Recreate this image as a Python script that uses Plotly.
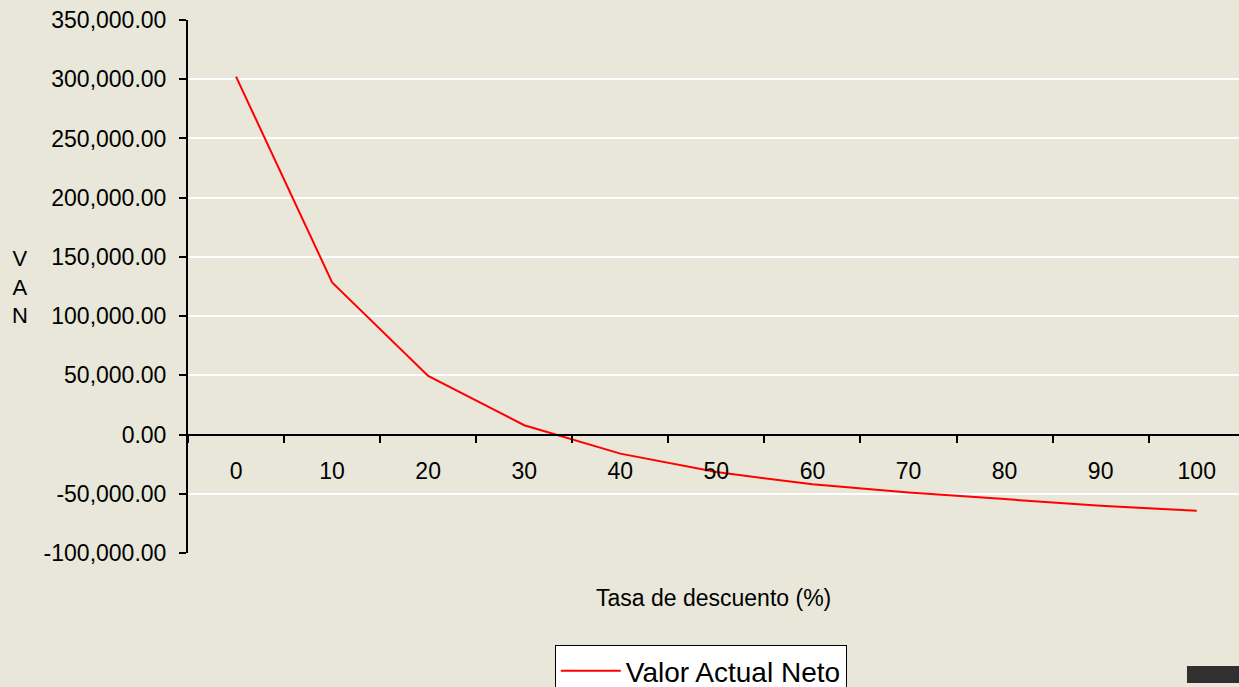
import plotly.graph_objects as go

# ---- data ----
tasas = ["0", "10", "20", "30", "40", "50", "60", "70", "80", "90", "100"]
van = [302200, 128500, 49500, 7900, -16100, -31700, -42000, -48900, -54500, -60200, -64400]
y_tickvals = [-100000, -50000, 0, 50000, 100000, 150000, 200000, 250000, 300000, 350000]
y_ticktext = ["-100,000.00", "-50,000.00", "0.00", "50,000.00", "100,000.00",
              "150,000.00", "200,000.00", "250,000.00", "300,000.00", "350,000.00"]
serie_nombre = "Valor Actual Neto"
x_titulo = "Tasa de descuento (%)"
y_titulo = "V<br>A<br>N"

y_min, y_max = -100000, 350000
FONT = "Liberation Sans, Arial, sans-serif"
BG = "#e8e7d9"

fig = go.Figure()
fig.add_trace(go.Scatter(
    x=tasas, y=van, mode="lines", name=serie_nombre,
    line=dict(color="#ff0000", width=2),
))

x_axis_pos = (0 - y_min) / (y_max - y_min)

fig.update_layout(
    width=1239, height=687,
    margin=dict(l=188, r=0, t=20, b=134, autoexpand=False),
    paper_bgcolor=BG, plot_bgcolor=BG,
    font=dict(family=FONT, size=23, color="#000000"),
    showlegend=True,
    legend=dict(
        x=0.349, xanchor="left", y=-0.1726, yanchor="top",
        bgcolor="#ffffff", bordercolor="#000000", borderwidth=1,
        font=dict(family=FONT, size=28, color="#000000"),
        itemwidth=60,
    ),
    xaxis=dict(
        type="category", range=[-0.5, 10.44],
        anchor="free", position=x_axis_pos,
        showline=True, linecolor="#000000", linewidth=2,
        ticks="outside", ticklen=7, tickwidth=2, tickcolor="#000000",
        tickson="boundaries", ticklabelstandoff=16,
        showgrid=False, zeroline=False,
        tickfont=dict(family=FONT, size=23, color="#000000"),
    ),
    yaxis=dict(
        range=[y_min, y_max],
        tickvals=y_tickvals, ticktext=y_ticktext,
        showline=True, linecolor="#000000", linewidth=2,
        ticks="outside", ticklen=7, tickwidth=2, tickcolor="#000000",
        ticklabelstandoff=8,
        showgrid=True, gridcolor="#ffffff", gridwidth=1.5,
        zeroline=False,
        tickfont=dict(family=FONT, size=23, color="#000000"),
    ),
    annotations=[
        dict(text=x_titulo, xref="paper", yref="paper", x=0.5, y=-0.0844,
             showarrow=False, font=dict(family=FONT, size=23, color="#000000"),
             xanchor="center", yanchor="middle"),
        dict(text=y_titulo, xref="paper", yref="paper", x=-0.16, y=0.499,
             showarrow=False, font=dict(family=FONT, size=22, color="#000000"),
             xanchor="center", yanchor="middle", align="center"),
    ],
    shapes=[
        dict(type="rect", xref="paper", yref="paper",
             x0=0.9505, x1=1.0, y0=-0.2439, y1=-0.212,
             fillcolor="#303030", line=dict(width=0), layer="above"),
    ],
)

fig.write_html(
    "out.html",
    config={"displayModeBar": False},
    post_script="document.body.style.margin='0';document.body.style.overflow='hidden';",
)
